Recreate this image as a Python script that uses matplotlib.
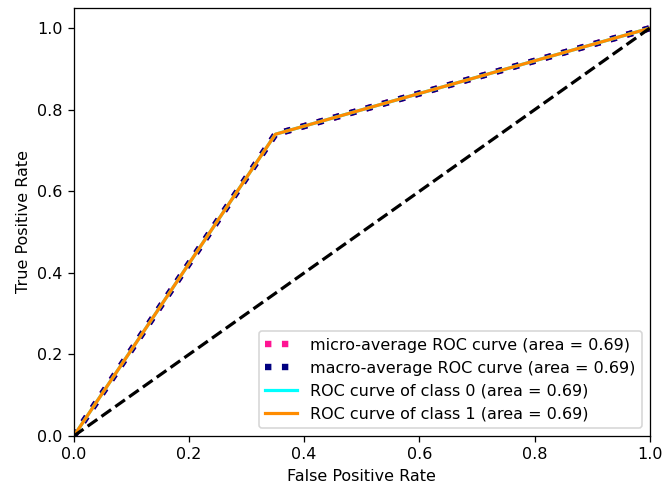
import matplotlib
matplotlib.use("Agg")
import matplotlib.pyplot as plt

fpr = [0.0, 0.35, 1.0]
tpr = [0.0, 0.74, 1.0]
roc_auc = 0.69
class_names = ["0", "1"]
class_colors = ["aqua", "darkorange"]

# rendered at a higher dpi so fonts and lines come out ~1.15x bigger
dpi = 115
fig, ax = plt.subplots(figsize=(665 / dpi, 491 / dpi), dpi=dpi)

ax.plot(fpr, tpr, label="micro-average ROC curve (area = {0:0.2f})".format(roc_auc),
        color="deeppink", linestyle=":", linewidth=4)
ax.plot(fpr, tpr, label="macro-average ROC curve (area = {0:0.2f})".format(roc_auc),
        color="navy", linestyle=":", linewidth=4)
for name, color in zip(class_names, class_colors):
    ax.plot(fpr, tpr, color=color, lw=2,
            label="ROC curve of class {0} (area = {1:0.2f})".format(name, roc_auc))

ax.plot([0, 1], [0, 1], "k--", lw=2)
ax.set_xlim([0.0, 1.0])
ax.set_ylim([0.0, 1.05])
ax.set_xlabel("False Positive Rate")
ax.set_ylabel("True Positive Rate")
ax.legend(loc="lower right")

plt.subplots_adjust(left=0.111, right=0.977, top=0.984, bottom=0.112)
plt.savefig("out.png")
